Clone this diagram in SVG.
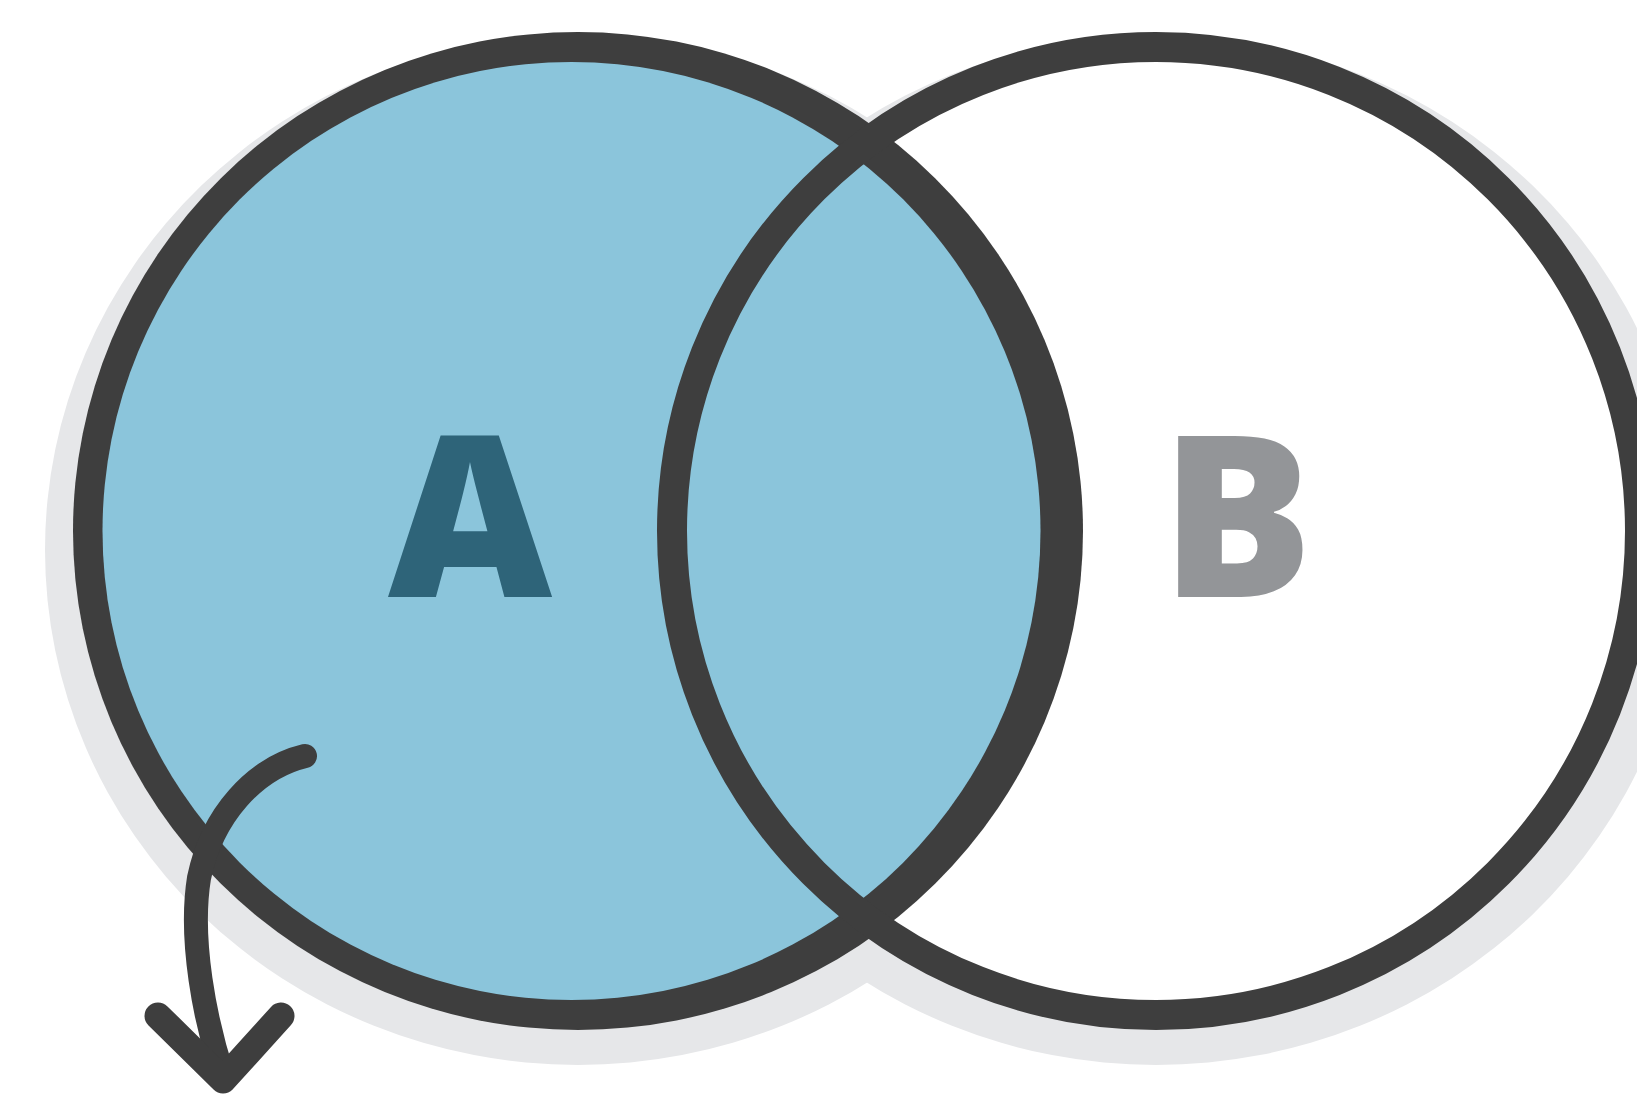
<svg xmlns="http://www.w3.org/2000/svg" width="1637" height="1106" viewBox="0 0 1637 1106">
  <style>
    .shadow { fill: #e6e7e9; }
    .ring { fill: none; stroke: #3e3e3e; stroke-width: 30; }
    .label { font-family: "Open Sans", "Liberation Sans", sans-serif; font-weight: 800; font-size: 226px; text-anchor: middle; }
    .arrow { fill: none; stroke: #3e3e3e; stroke-linecap: round; stroke-linejoin: round; }
  </style>
  <rect width="1637" height="1106" fill="#ffffff"/>

  <!-- soft drop shadows under both sets -->
  <g id="shadows">
    <ellipse class="shadow" cx="578" cy="550" rx="533" ry="515"/>
    <ellipse class="shadow" cx="1156" cy="550" rx="533" ry="515"/>
  </g>

  <!-- set B: white body -->
  <g id="set-b-body">
    <circle cx="1156" cy="531" r="484" fill="#ffffff"/>
  </g>

  <!-- set A: shaded, outline thicker on its right side -->
  <g id="set-a">
    <ellipse cx="578" cy="531" rx="505" ry="499" fill="#3e3e3e"/>
    <circle cx="571.5" cy="531" r="469" fill="#8bc5db"/>
    <text class="label" x="470" y="597" fill="#2e6479">A</text>
  </g>

  <!-- set B: outline and label -->
  <g id="set-b">
    <circle class="ring" cx="1156" cy="531" r="484"/>
    <text class="label" x="1237" y="597" fill="#939598">B</text>
  </g>

  <!-- curved arrow leaving set A -->
  <g id="connectors">
    <path class="arrow" stroke-width="24" d="M305,756 C255,768 212,815 199,878 C189,940 205,1020 223,1076"/>
    <path class="arrow" stroke-width="27" d="M158,1016 L223,1080 L281,1016"/>
  </g>
</svg>
